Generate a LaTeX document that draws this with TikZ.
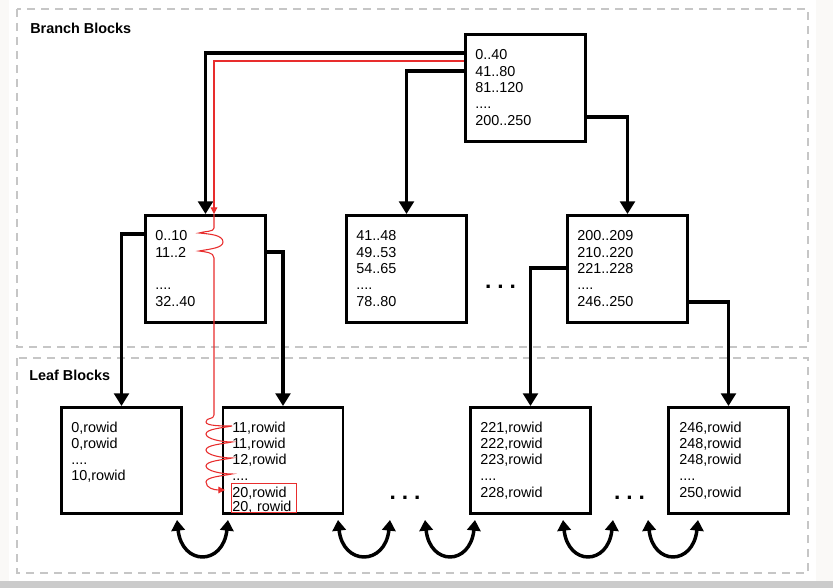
\documentclass[tikz,border=0pt]{standalone}
\usepackage{fontspec}
\setmainfont{Liberation Sans}
\usetikzlibrary{arrows.meta,calc}
\definecolor{reda}{RGB}{232,45,45}
\definecolor{dashg}{RGB}{198,198,198}
\definecolor{edgebg}{RGB}{250,249,247}
\definecolor{stripg}{RGB}{203,203,203}
\begin{document}
\begin{tikzpicture}[x=0.75pt,y=-0.75pt,
  box/.style={draw, line width=2.2pt, minimum width=90pt, minimum height=80.25pt, inner sep=0pt},
  lbox/.style={box, minimum height=79.5pt},
  txt/.style={font=\fontsize{10.8}{12.2}\selectfont, align=left, anchor=base west, inner sep=0pt, text width=80pt},
  lbl/.style={font=\fontsize{10.8}{12.2}\selectfont\bfseries, anchor=base west, inner sep=0pt},
  conn/.style={line width=2.6pt, -{Triangle[width=11pt,length=9.5pt]}},
  dbl/.style={line width=2.6pt, {Triangle[width=10pt,length=8pt]}-{Triangle[width=10pt,length=8pt]}},
  redl/.style={draw=reda, line width=0.8pt},
  region/.style={draw=dashg, line width=1.9pt, dash pattern=on 6pt off 4.5pt},
  dots/.style={font=\fontsize{17}{17}\selectfont\bfseries, inner sep=0pt}
]
\useasboundingbox (0,0) rectangle (833,588);
\fill[edgebg] (0,0) rectangle (833,588);
\fill[white] (9,0) rectangle (816,581);
\fill[stripg] (0,581) rectangle (833,588);

% regions
\draw[region] (17,9) rectangle (808,347);
\draw[region] (17,358) rectangle (808,573);
\node[lbl] (lblb) at (30,34) {Branch Blocks};
\node[lbl] (lbll) at (29,381) {Leaf Blocks};

% branch blocks
\node[box] (root) at (525.5,88) {};
\node[box] (b1) at (205.5,269) {};
\node[box] (b2) at (406.5,269) {};
\node[box] (b3) at (627.5,269) {};
\node[txt] (troot) at (475,60) {0..40\\41..80\\81..120\\....\\200..250};
\node[txt] (tb1) at (155,241) {0..10\\11..2\\[12.2pt]....\\32..40};
\node[txt] (tb2) at (356,241) {41..48\\49..53\\54..65\\....\\78..80};
\node[txt] (tb3) at (577,241) {200..209\\210..220\\221..228\\....\\246..250};

% leaf blocks
\node[lbox] (l1) at (121.5,460.5) {};
\node[lbox] (l2) at (283,460.5) {};
\node[lbox] (l3) at (530.5,460.5) {};
\node[lbox] (l4) at (728.5,460.5) {};
\node[txt] (tl1) at (71,432) {0,rowid\\0,rowid\\....\\10,rowid};
\node[txt] (tl2) at (232,432) {11,rowid\\11,rowid\\12,rowid\\....\\20,rowid\\[-1.5pt]20, rowid};
\node[txt] (tl3) at (480,432) {221,rowid\\222,rowid\\223,rowid\\....\\228,rowid};
\node[txt] (tl4) at (679,432) {246,rowid\\248,rowid\\248,rowid\\....\\250,rowid};

% highlight
\node[draw=reda, line width=0.8pt, minimum width=48.9pt, minimum height=21.9pt, inner sep=0pt] (hl) at (264,498) {};

% ellipses
\node[dots] (d1) at (500.5,287) {.\hspace{4.4pt}.\hspace{4.4pt}.};
\node[dots] (d2) at (405,498) {.\hspace{4.4pt}.\hspace{4.4pt}.};
\node[dots] (d3) at (629.5,498) {.\hspace{4.4pt}.\hspace{4.4pt}.};

% connectors
\draw[conn] (root.west |- 0,53) -| (b1.north);
\draw[conn] (root.west |- 0,71) -| (b2.north);
\draw[conn] (root.east |- 0,117) -| (b3.north);
\draw[conn] (b1.west |- 0,234) -| (l1.north);
\draw[conn] (b1.east |- 0,252) -| (l2.north);
\draw[conn] (b3.west |- 0,268) -| (l3.north);
\draw[conn] (b3.east |- 0,302) -| (l4.north);

% red search path
\draw[redl, -{Triangle[width=5pt,length=5pt]}] (root.west |- 0,61) -| (b1.north -| 214,0);
\coordinate (hit) at (225,490);
\draw[redl, -{Triangle[width=5pt,length=5pt]}] (b1.north -| 214,0) -- (214,228)
  .. controls (214,232) and (205,231) .. (199,233)
  .. controls (210,234) and (223,235) .. (223,242)
  .. controls (223,248) and (210,249) .. (199,251)
  .. controls (205,252) and (214,252) .. (214,258)
  -- (214,415)
  .. controls (214,420) and (206,417) .. (206,422)
  .. controls (206,426) and (222,426) .. (232,426)
  .. controls (222,428) and (206,429) .. (206,434)
  .. controls (206,439) and (222,442) .. (232,442)
  .. controls (222,444) and (206,445) .. (206,450)
  .. controls (206,455) and (222,458) .. (232,458)
  .. controls (222,460) and (206,461) .. (206,466)
  .. controls (206,471) and (222,474) .. (232,474)
  .. controls (222,476) and (206,477) .. (206,482)
  .. controls (206,488) and (214,490) .. (hit);

% sibling links
\foreach \i/\a/\b in {1/177/228, 2/338/390, 3/425/475, 4/563/613, 5/648/698} {
  \coordinate (u\i a) at (\a,520);
  \coordinate (u\i b) at (\b,520);
  \draw[dbl] (u\i a) .. controls +(5,46) and +(-5,46) .. (u\i b);
}
\end{tikzpicture}
\end{document}
